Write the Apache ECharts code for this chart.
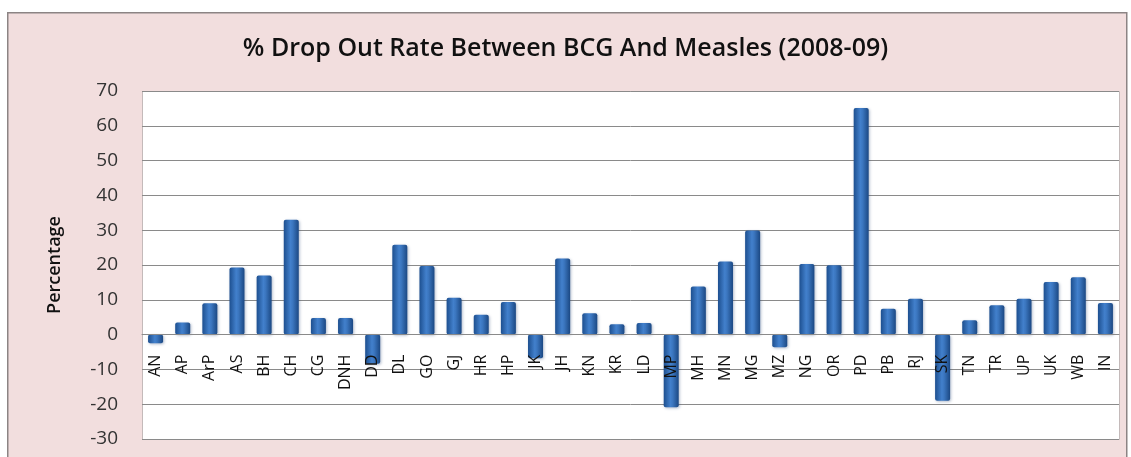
<!DOCTYPE html>
<html lang="en">
<head>
    <meta charset="UTF-8">
    <title>% Drop Out Rate Between BCG And Measles (2008-09)</title>
    <style>
        html, body { margin: 0; padding: 0; background: #fff; }
        #chart { width: 1131px; height: 457px; }
    </style>
</head>
<body>
    <div id="chart"></div>
</body>
<script src="https://cdn.jsdelivr.net/npm/echarts@6/dist/echarts.min.js"></script>
<script type="text/javascript">
    // state codes along the x axis
    var states = ['AN', 'AP', 'ArP', 'AS', 'BH', 'CH', 'CG', 'DNH', 'DD', 'DL', 'GO', 'GJ',
        'HR', 'HP', 'JK', 'JH', 'KN', 'KR', 'LD', 'MP', 'MH', 'MN', 'MG', 'MZ',
        'NG', 'OR', 'PD', 'PB', 'RJ', 'SK', 'TN', 'TR', 'UP', 'UK', 'WB', 'IN'];

    // % drop out BCG -> Measles
    var dropOut = [-2.5, 3.5, 9.0, 19.3, 17.0, 33.0, 4.8, 4.8, -8.4, 25.8, 19.7, 10.6,
        5.7, 9.4, -6.8, 21.9, 6.1, 3.0, 3.3, -20.9, 13.8, 21.0, 29.9, -3.6,
        20.3, 19.9, 65.1, 7.4, 10.3, -19.0, 4.1, 8.4, 10.3, 15.1, 16.5, 9.1];

    var yMin = -30, yMax = 70, yStep = 10;

    var gridTop = 91, gridBottom = 18, gridH = 457 - gridTop - gridBottom;
    // category axis sits on the zero line, not at the bottom of the plot
    var zeroOffset = gridH * (0 - yMin) / (yMax - yMin);

    var myChart = echarts.init(document.getElementById('chart'));

    var barFill = new echarts.graphic.LinearGradient(0, 0, 1, 0, [
        { offset: 0, color: '#1d4f8f' },
        { offset: 0.45, color: '#4280cc' },
        { offset: 0.6, color: '#3b76bf' },
        { offset: 1, color: '#1b4883' }
    ]);

    myChart.setOption({
        backgroundColor: '#ffffff',
        animation: false,
        graphic: [{
            type: 'rect',
            left: 7, top: 12,
            shape: { width: 1119, height: 460 },
            style: { fill: '#f2dede', stroke: '#8c8484', lineWidth: 1.5 },
            z: -10
        }, {
            type: 'rect',
            left: 142, top: gridTop,
            shape: { width: 977, height: gridH },
            style: { fill: '#ffffff', stroke: '#c4baba', lineWidth: 1 },
            z: -5
        }],
        title: {
            text: '% Drop Out Rate Between BCG And Measles (2008-09)',
            left: 'center',
            top: 31,
            textStyle: {
                fontFamily: 'Open Sans',
                fontWeight: 600,
                fontSize: 25,
                color: '#111'
            }
        },
        grid: {
            left: 142,
            right: 12,
            top: gridTop,
            bottom: gridBottom,
            containLabel: false
        },
        xAxis: {
            type: 'category',
            data: states,
            position: 'bottom',
            offset: -zeroOffset,
            z: 5,
            axisLine: { onZero: false, lineStyle: { color: '#8a8a8a', width: 1 } },
            axisTick: { show: false },
            axisLabel: {
                rotate: 90,
                interval: 0,
                margin: 20,
                fontFamily: 'Open Sans',
                fontSize: 16,
                color: '#111'
            }
        },
        yAxis: {
            type: 'value',
            min: yMin,
            max: yMax,
            interval: yStep,
            name: 'Percentage',
            nameLocation: 'middle',
            nameGap: 78,
            nameTextStyle: {
                fontFamily: 'Open Sans',
                fontWeight: 600,
                fontSize: 18,
                color: '#111'
            },
            axisLine: { show: false },
            axisTick: { show: false },
            axisLabel: {
                margin: 24,
                fontFamily: 'Open Sans',
                fontSize: 19,
                color: '#333'
            },
            splitLine: { lineStyle: { color: '#8a8a8a', width: 1 } }
        },
        series: [{
            name: '% Drop Out',
            type: 'bar',
            data: dropOut,
            barWidth: 15,
            z: 2,
            itemStyle: {
                color: barFill,
                borderRadius: 2,
                shadowBlur: 3,
                shadowColor: 'rgba(30,60,110,0.35)',
                shadowOffsetX: 1,
                shadowOffsetY: 1
            }
        }]
    });
</script>
</html>
